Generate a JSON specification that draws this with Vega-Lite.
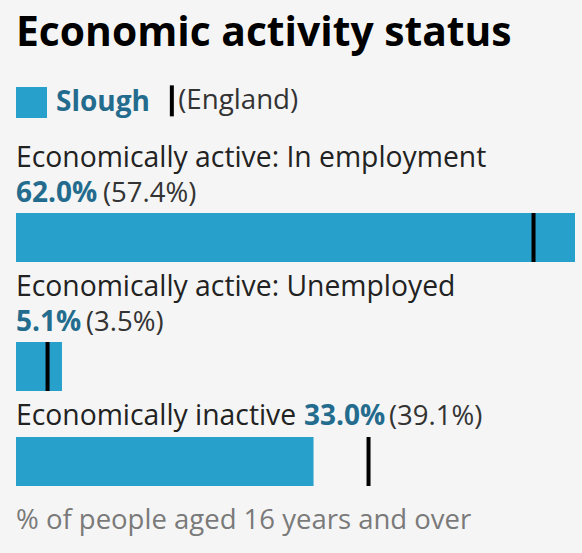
{
  "$schema": "https://vega.github.io/schema/vega-lite/v6.json",
  "background": "#f5f5f5",
  "padding": {"left": 16, "top": 13, "right": 7, "bottom": 30},
  "title": {
    "text": "Economic activity status",
    "anchor": "start",
    "font": "Open Sans",
    "fontSize": 40.8,
    "fontWeight": "bold",
    "color": "#000000",
    "offset": 32
  },
  "data": {
    "values": [
      {"category": "Economically active: In employment", "slough": 62.0, "england": 57.4},
      {"category": "Economically active: Unemployed", "slough": 5.1, "england": 3.5},
      {"category": "Economically inactive", "slough": 33.0, "england": 39.1}
    ]
  },
  "spacing": 7,
  "bounds": "flush",
  "vconcat": [
    {
      "width": 559,
      "height": 122,
      "transform": [
        {"filter": "datum.category === 'Economically active: In employment'"},
        {"calculate": "format(datum.slough, '.1f') + '%'", "as": "sloughLabel"},
        {"calculate": "'(' + format(datum.england, '.1f') + '%)'", "as": "englandLabel"}
      ],
      "encoding": {
        "y": {"field": "category", "type": "nominal", "axis": null,
              "scale": {"paddingInner": 0, "paddingOuter": 0.745, "align": 1}}
      },
      "layer": [
        {
          "mark": {"type": "bar"},
          "encoding": {
            "x": {"field": "slough", "type": "quantitative", "axis": null, "scale": {"domain": [0, 62], "nice": false}},
            "color": {"datum": "Slough", "scale": {"range": ["#27a0cc"]},
              "legend": {"orient": "top", "title": null, "symbolType": "square", "symbolSize": 961,
                "symbolStrokeWidth": 0, "symbolOpacity": 1, "labelFont": "Open Sans", "labelFontSize": 28,
                "labelFontWeight": "bold", "labelColor": "#246c8e", "labelOffset": 9, "offset": 22, "padding": 0}}
          }
        },
        {
          "mark": {"type": "tick", "thickness": 4, "size": 49, "opacity": 1},
          "encoding": {
            "x": {"field": "england", "type": "quantitative", "axis": null},
            "fill": {"datum": "(England)", "scale": {"range": ["#000000"]},
              "legend": {"orient": "top", "title": null, "symbolType": "M-0.2105,-1.632H0.2105V1.632H-0.2105Z", "symbolSize": 361,
                "symbolStrokeWidth": 0, "symbolOpacity": 1, "labelFont": "Open Sans", "labelFontSize": 27.7,
                "labelFontWeight": "normal", "labelColor": "#333333", "labelOffset": -7.5, "offset": 22, "padding": 0}}
          }
        },
        {
          "mark": {"type": "text", "align": "left", "baseline": "alphabetic", "dy": -70.8,
                   "font": "Open Sans", "fontSize": 28.3, "color": "#222222"},
          "encoding": {"x": {"datum": 0}, "text": {"field": "category"}}
        },
        {
          "mark": {"type": "text", "align": "left", "baseline": "alphabetic", "dy": -35.8,
                   "font": "Open Sans", "fontSize": 28, "fontWeight": "bold", "color": "#246c8e"},
          "encoding": {"x": {"datum": 0}, "text": {"field": "sloughLabel"}}
        },
        {
          "mark": {"type": "text", "align": "left", "baseline": "alphabetic", "dy": -35.8, "dx": 87,
                   "font": "Open Sans", "fontSize": 27.5, "color": "#333333"},
          "encoding": {"x": {"datum": 0}, "text": {"field": "englandLabel"}}
        }
      ]
    },
    {
      "width": 559,
      "height": 122,
      "transform": [
        {"filter": "datum.category === 'Economically active: Unemployed'"},
        {"calculate": "format(datum.slough, '.1f') + '%'", "as": "sloughLabel"},
        {"calculate": "'(' + format(datum.england, '.1f') + '%)'", "as": "englandLabel"}
      ],
      "encoding": {
        "y": {"field": "category", "type": "nominal", "axis": null,
              "scale": {"paddingInner": 0, "paddingOuter": 0.745, "align": 1}}
      },
      "layer": [
        {
          "mark": {"type": "bar"},
          "encoding": {
            "x": {"field": "slough", "type": "quantitative", "axis": null, "scale": {"domain": [0, 62], "nice": false}},
            "color": {"datum": "Slough"}
          }
        },
        {
          "mark": {"type": "tick", "thickness": 4, "size": 49, "opacity": 1},
          "encoding": {
            "x": {"field": "england", "type": "quantitative", "axis": null},
            "fill": {"datum": "(England)"}
          }
        },
        {
          "mark": {"type": "text", "align": "left", "baseline": "alphabetic", "dy": -70.8,
                   "font": "Open Sans", "fontSize": 28.3, "color": "#222222"},
          "encoding": {"x": {"datum": 0}, "text": {"field": "category"}}
        },
        {
          "mark": {"type": "text", "align": "left", "baseline": "alphabetic", "dy": -35.8,
                   "font": "Open Sans", "fontSize": 28, "fontWeight": "bold", "color": "#246c8e"},
          "encoding": {"x": {"datum": 0}, "text": {"field": "sloughLabel"}}
        },
        {
          "mark": {"type": "text", "align": "left", "baseline": "alphabetic", "dy": -35.8, "dx": 70,
                   "font": "Open Sans", "fontSize": 27.5, "color": "#333333"},
          "encoding": {"x": {"datum": 0}, "text": {"field": "englandLabel"}}
        }
      ]
    },
    {
      "width": 559,
      "height": 88,
      "title": {"text": "% of people aged 16 years and over", "orient": "bottom", "anchor": "start",
                "font": "Open Sans", "fontSize": 27.5, "fontWeight": "normal", "color": "#7a7a7a", "offset": 21},
      "transform": [
        {"filter": "datum.category === 'Economically inactive'"},
        {"calculate": "format(datum.slough, '.1f') + '%'", "as": "sloughLabel"},
        {"calculate": "'(' + format(datum.england, '.1f') + '%)'", "as": "englandLabel"}
      ],
      "encoding": {
        "y": {"field": "category", "type": "nominal", "axis": null,
              "scale": {"paddingInner": 0, "paddingOuter": 0.398, "align": 1}}
      },
      "layer": [
        {
          "mark": {"type": "bar"},
          "encoding": {
            "x": {"field": "slough", "type": "quantitative", "axis": null, "scale": {"domain": [0, 62], "nice": false}},
            "color": {"datum": "Slough"}
          }
        },
        {
          "mark": {"type": "tick", "thickness": 4, "size": 49, "opacity": 1},
          "encoding": {
            "x": {"field": "england", "type": "quantitative", "axis": null},
            "fill": {"datum": "(England)"}
          }
        },
        {
          "mark": {"type": "text", "align": "left", "baseline": "alphabetic", "dy": -37,
                   "font": "Open Sans", "fontSize": 28.3, "color": "#222222"},
          "encoding": {"x": {"datum": 0}, "text": {"field": "category"}}
        },
        {
          "mark": {"type": "text", "align": "left", "baseline": "alphabetic", "dy": -37, "dx": 288,
                   "font": "Open Sans", "fontSize": 28, "fontWeight": "bold", "color": "#246c8e"},
          "encoding": {"x": {"datum": 0}, "text": {"field": "sloughLabel"}}
        },
        {
          "mark": {"type": "text", "align": "left", "baseline": "alphabetic", "dy": -37, "dx": 373,
                   "font": "Open Sans", "fontSize": 27.5, "color": "#333333"},
          "encoding": {"x": {"datum": 0}, "text": {"field": "englandLabel"}}
        }
      ]
    }
  ],
  "config": {
    "font": "Open Sans",
    "view": {"stroke": null},
    "bar": {"opacity": 1}
  }
}
